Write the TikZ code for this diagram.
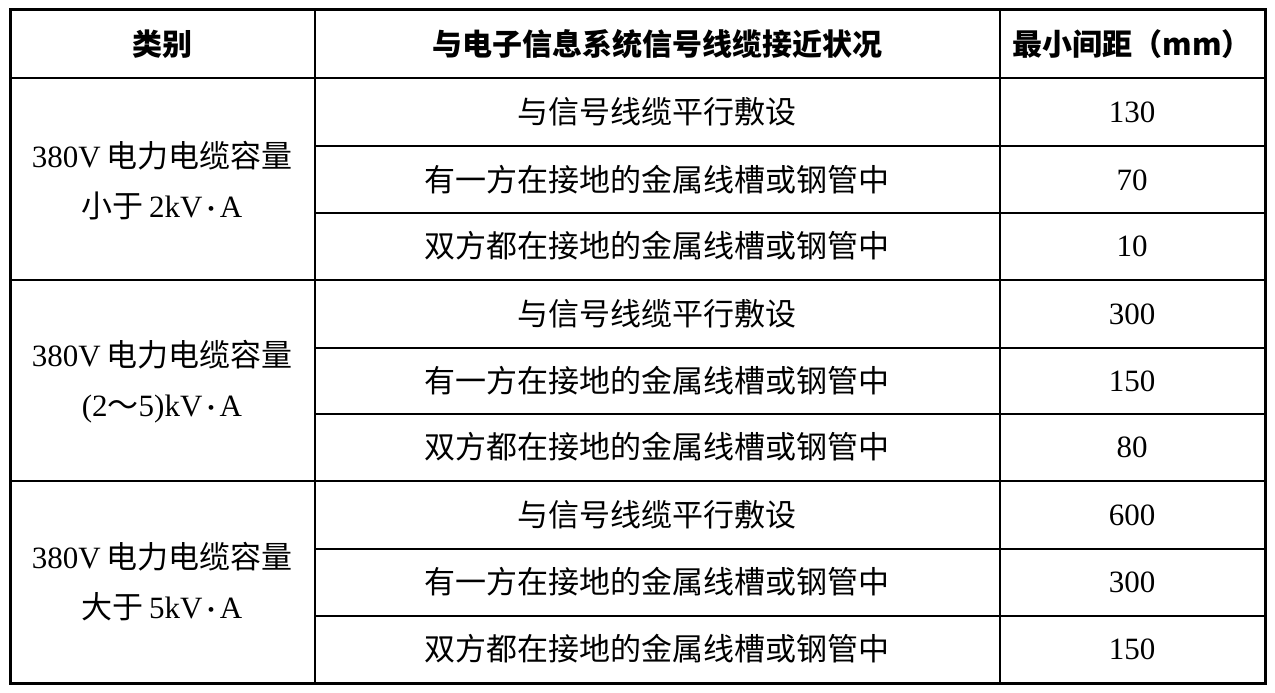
\documentclass[tikz,border=0pt]{standalone}
\usepackage{fontspec}
\setmainfont{Liberation Serif}
\newfontfamily\cjk{Noto Sans CJK SC}
\newcommand{\zh}[1]{{\cjk #1}}
\newcommand{\mdot}{\,{\fontsize{20}{20}\selectfont\raisebox{2pt}{\textbullet}}\,}
\begin{document}
\begin{tikzpicture}[x=1pt,y=-1pt,
  cell/.style={font=\fontsize{31}{36}\selectfont, anchor=center},
  head/.style={cell, font=\fontsize{30}{36}\selectfont\bfseries},
  inner/.style={line width=1.5pt},
  outer/.style={line width=3pt}]
\useasboundingbox (0,0) rectangle (1275,693);
% grid
\foreach \y in {146,213,348,414,549,616} \draw[inner] (315,\y) -- (1265,\y);
\foreach \y in {78,280,481} \draw[inner] (10,\y) -- (1265,\y);
\draw[inner] (315,10) -- (315,683);
\draw[inner] (1000,10) -- (1000,683);
\draw[outer] (10,10) rectangle (1265,683);
% header
\node[head] (h1) at (162,44) {\cjk\bfseries 类别};
\node[head] (h2) at (657,44) {\cjk\bfseries 与电子信息系统信号线缆接近状况};
\node[head] (h3) at (1132,44) {\cjk\bfseries 最小间距（mm）};
% groups
\node[cell, align=center] (g1) at (162,181) {380V\,\zh{电力电缆容量}\\[14pt]\zh{小于}\,2kV\mdot A};
\node[cell, align=center] (g2) at (162,382) {380V\,\zh{电力电缆容量}\\[14pt](2\zh{～}5)kV\mdot A};
\node[cell, align=center] (g3) at (162,582) {380V\,\zh{电力电缆容量}\\[14pt]\zh{大于}\,5kV\mdot A};
% rows
\foreach \yc/\t/\v [count=\i] in {
 112/与信号线缆平行敷设/130,
 180/有一方在接地的金属线槽或钢管中/70,
 246/双方都在接地的金属线槽或钢管中/10,
 314/与信号线缆平行敷设/300,
 381/有一方在接地的金属线槽或钢管中/150,
 447/双方都在接地的金属线槽或钢管中/80,
 515/与信号线缆平行敷设/600,
 582/有一方在接地的金属线槽或钢管中/300,
 649/双方都在接地的金属线槽或钢管中/150}{
 \node[cell] (c\i) at (657,\yc) {\zh{\t}};
 \node[cell] (v\i) at (1132,\yc) {\v};
}
\end{tikzpicture}
\end{document}
